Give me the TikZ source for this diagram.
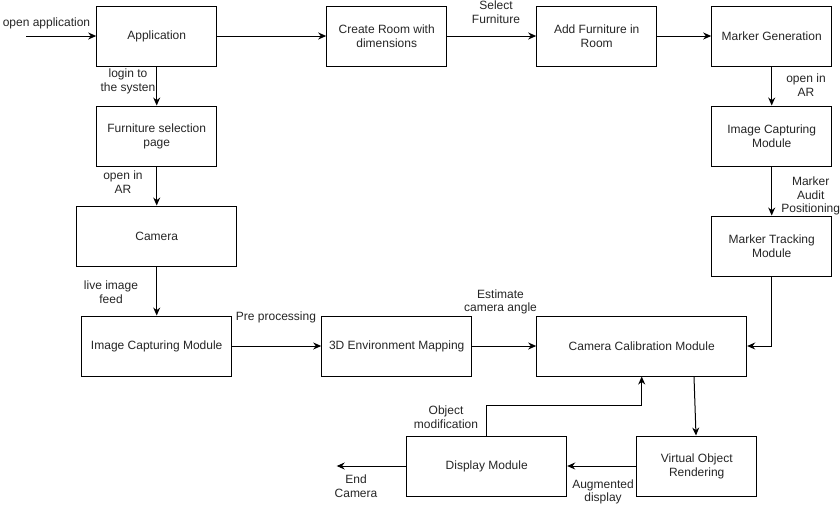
\documentclass[tikz,border=0pt]{standalone}
\usepackage{fontspec}
\setmainfont{Liberation Sans}
\usetikzlibrary{arrows.meta,positioning,calc}
\begin{document}
\begin{tikzpicture}[x=1pt,y=-1pt,
  font=\fontsize{12}{14}\selectfont,
  box/.style={draw=black,line width=1pt,align=center,inner sep=2pt,text=black!85},
  conn/.style={draw=black,line width=1pt,-{Stealth[length=8pt,width=7pt]}},
  lbl/.style={align=center,inner sep=0pt,text=black!85,font=\fontsize{12}{13.5}\selectfont}]
\useasboundingbox[fill=white] (0,0) rectangle (840,512);
% boxes
\node[box,minimum width=120pt,minimum height=60pt] (app)  at (156.7,36) {Application};
\node[box,minimum width=120pt,minimum height=60pt] (room) at (386.7,36) {Create Room with\\dimensions};
\node[box,minimum width=120pt,minimum height=60pt] (addf) at (596.7,36) {Add Furniture in\\Room};
\node[box,minimum width=120pt,minimum height=60pt] (mgen) at (771.7,36) {Marker Generation};
\node[box,minimum width=120pt,minimum height=60pt] (fsel) at (156.7,136) {Furniture selection\\page};
\node[box,minimum width=120pt,minimum height=60pt] (icr)  at (771.7,136) {Image Capturing\\Module};
\node[box,minimum width=160pt,minimum height=60pt] (cam)  at (156.7,236) {Camera};
\node[box,minimum width=120pt,minimum height=60pt] (mtr)  at (771.7,246) {Marker Tracking\\Module};
\node[box,minimum width=150pt,minimum height=60pt] (icl)  at (156.7,346) {Image Capturing Module};
\node[box,minimum width=150pt,minimum height=60pt] (env)  at (396.7,346) {3D Environment Mapping};
\node[box,minimum width=210pt,minimum height=60pt] (ccal) at (641.7,346) {Camera Calibration Module};
\node[box,minimum width=120pt,minimum height=60pt] (vor)  at (696.7,466) {Virtual Object\\Rendering};
\node[box,minimum width=160pt,minimum height=60pt] (disp) at (486.7,466) {Display Module};
% free ends
\coordinate (start) at (26,36);
\coordinate (endc) at (336.7,466);
% connectors
\draw[conn] (start) -- (app.west);
\draw[conn] (app.east) -- (room.west);
\draw[conn] (room.east) -- (addf.west);
\draw[conn] (addf.east) -- (mgen.west);
\draw[conn] (mgen.south) -- (icr.north);
\draw[conn] (icr.south) -- (mtr.north);
\draw[conn] (mtr.south) |- (ccal.east);
\draw[conn] (app.south) -- (fsel.north);
\draw[conn] (fsel.south) -- (cam.north);
\draw[conn] (cam.south) -- (icl.north);
\draw[conn] (icl.east) -- (env.west);
\draw[conn] (env.east) -- (ccal.west);
\draw[conn] ([xshift=52.3pt]ccal.south) -- ([xshift=-0.7pt]vor.north);
\draw[conn] (disp.north) -- ++(0,-30) -| (ccal.south);
\draw[conn] (vor.west) -- (disp.east);
\draw[conn] (disp.west) -- (endc);
% labels
\node[lbl] (l1) at (46.5,23) {open application};
\node[lbl] (l2) at (496,12) {Select\\Furniture};
\node[lbl] (l3) at (806,85) {open in\\AR};
\node[lbl] (l4) at (810.7,196) {Marker\\Audit\\Positioning};
\node[lbl] (l5) at (128,81.5) {login to\\the systen};
\node[lbl] (l6) at (123,182) {open in\\AR};
\node[lbl] (l7) at (111,292) {live image\\feed};
\node[lbl] (l8) at (276,317) {Pre processing};
\node[lbl] (l9) at (500.5,302) {Estimate\\camera angle};
\node[lbl] (l10) at (446,417) {Object\\modification};
\node[lbl] (l11) at (603,492) {Augmented\\display};
\node[lbl] (l12) at (356,486) {End\\Camera};
\end{tikzpicture}
\end{document}
